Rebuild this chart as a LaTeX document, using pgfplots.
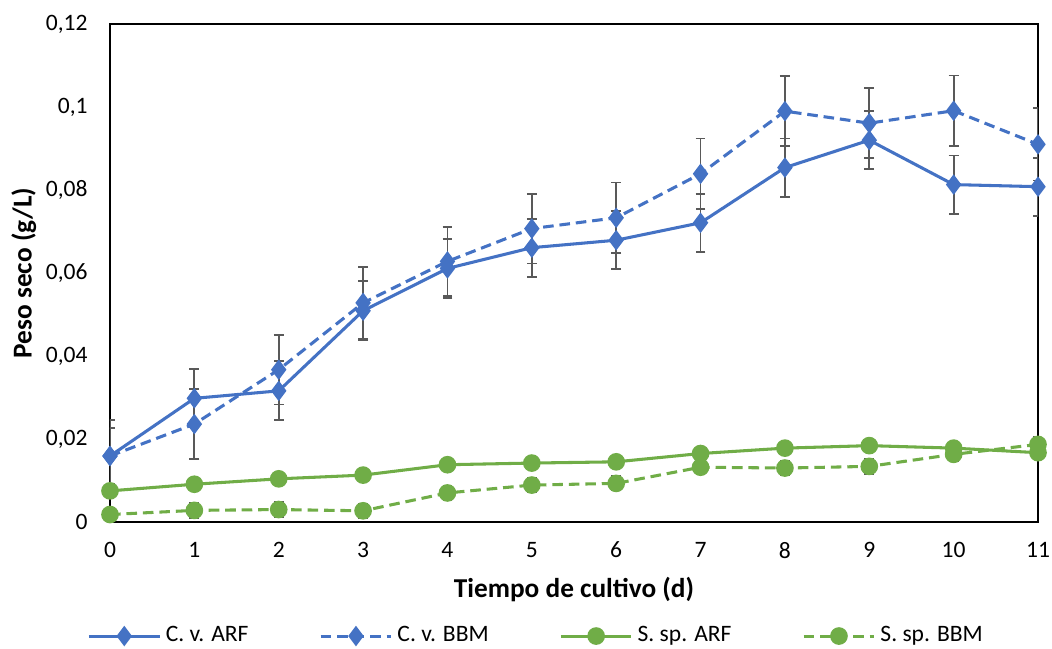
\documentclass[border=0pt]{standalone}
\usepackage{fontspec}
\setmainfont{Carlito}
\usepackage{pgfplots}
\pgfplotsset{compat=1.18}
\usepackage{pgfplotstable}
\definecolor{cvblue}{HTML}{4472C4}
\definecolor{ssgreen}{HTML}{70AD47}
\definecolor{errgray}{HTML}{595959}

\pgfplotstableread{
x y e
0 0.0159 0.0067
1 0.0298 0.0070
2 0.0316 0.0071
3 0.0509 0.0071
4 0.0611 0.0071
5 0.0661 0.0070
6 0.0679 0.0070
7 0.0721 0.0070
8 0.0854 0.0070
9 0.0920 0.0070
10 0.0813 0.0070
11 0.0808 0.0070
}\cvarf
\pgfplotstableread{
x y e
0 0.0159 0.0086
1 0.0236 0.0085
2 0.0367 0.0084
3 0.0528 0.0086
4 0.0628 0.0083
5 0.0707 0.0084
6 0.0733 0.0085
7 0.0839 0.0085
8 0.0990 0.0084
9 0.0961 0.0084
10 0.0991 0.0085
11 0.0910 0.0087
}\cvbbm
\pgfplotstableread{
x y
0 0.0075
1 0.0091
2 0.0104
3 0.0113
4 0.0138
5 0.0142
6 0.0145
7 0.0165
8 0.0178
9 0.0184
10 0.0178
11 0.0167
}\ssarf
\pgfplotstableread{
x y e
0 0.0018 0.0015
1 0.0028 0.0018
2 0.0030 0.0018
3 0.0027 0.0017
4 0.0070 0.0018
5 0.0089 0.0017
6 0.0093 0.0017
7 0.0132 0.0017
8 0.0130 0.0018
9 0.0134 0.0018
10 0.0163 0.0017
11 0.0187 0.0017
}\ssbbm

\begin{document}
\begin{tikzpicture}
\useasboundingbox (-46.75pt,-53.6pt) rectangle (400.35pt,221.85pt);
\begin{axis}[
  at={(0,0)}, anchor=south west,
  scale only axis,
  width=394.4pt, height=211.65pt,
  xmin=0, xmax=11, ymin=0, ymax=0.12,
  xtick={0,1,...,11},
  ytick={0,0.02,0.04,0.06,0.08,0.1,0.12},
  scaled y ticks=false,
  major tick length=0pt,
  axis line style={line width=1pt,black},
  /pgf/number format/.cd, use comma, fixed, precision=2, assume math mode=true,
  /pgfplots/.cd,
  tick label style={font=\fontsize{10}{12}\selectfont, black},
  yticklabel style={xshift=-6pt},
  xticklabel style={yshift=-5pt},
  xlabel={\fontsize{11.6}{13}\selectfont\bfseries Tiempo de cultivo (d)},
  ylabel={\fontsize{11.6}{13}\selectfont\bfseries Peso seco (g/L)},
  every axis x label/.style={at={(axis description cs:0.5,-0.1365)},anchor=center},
  every axis y label/.style={at={(axis description cs:-0.093,0.5)},rotate=90,anchor=center},
  legend columns=4,
  legend style={at={(axis description cs:0.4607,-0.229)}, anchor=center, draw=none,
    font=\fontsize{10}{12}\selectfont,
    /tikz/every even column/.append style={column sep=28pt}},
  legend image code/.code={\draw[mark repeat=2,mark phase=2,#1] plot coordinates {(0pt,0pt) (15pt,0pt) (30pt,0pt)};},
  error bars/error bar style={errgray, line width=0.8pt, solid},
  error bars/error mark options={rotate=90, errgray, mark size=2.1pt, line width=0.8pt, solid},
]
\addplot[cvblue, line width=1.3pt, mark=diamond*, mark size=3.3pt, mark options={solid, fill=cvblue},
  error bars/.cd, y dir=both, y explicit]
  table[x=x, y=y, y error=e] {\cvarf};
\addlegendentry{C. v. ARF}
\addplot[cvblue, line width=1.3pt, dash pattern=on 4.5pt off 2.5pt, mark=diamond*, mark size=3.3pt, mark options={solid, fill=cvblue},
  error bars/.cd, y dir=both, y explicit]
  table[x=x, y=y, y error=e] {\cvbbm};
\addlegendentry{C. v. BBM}
\addplot[ssgreen, line width=1.3pt, mark=*, mark size=3.1pt, mark options={solid, fill=ssgreen}]
  table[x=x, y=y] {\ssarf};
\addlegendentry{S. sp. ARF}
\addplot[ssgreen, line width=1.3pt, dash pattern=on 4.5pt off 2.5pt, mark=*, mark size=3.1pt, mark options={solid, fill=ssgreen},
  error bars/.cd, y dir=both, y explicit]
  table[x=x, y=y, y error=e] {\ssbbm};
\addlegendentry{S. sp. BBM}
\end{axis}
\end{tikzpicture}
\end{document}
